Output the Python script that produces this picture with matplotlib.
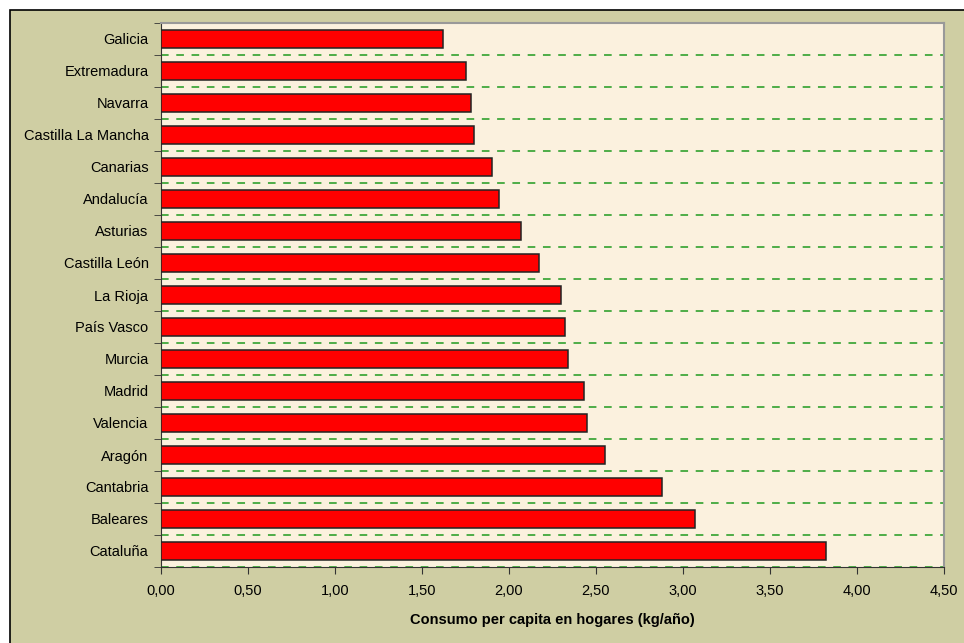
import matplotlib.pyplot as plt
from matplotlib.patches import Rectangle
import numpy as np

regiones = ['Galicia', 'Extremadura', 'Navarra', 'Castilla La Mancha', 'Canarias',
            'Andalucía', 'Asturias', 'Castilla León', 'La Rioja', 'País Vasco',
            'Murcia', 'Madrid', 'Valencia', 'Aragón', 'Cantabria', 'Baleares', 'Cataluña']
consumo = [1.62, 1.75, 1.78, 1.80, 1.90, 1.94, 2.07, 2.17, 2.30, 2.32,
           2.34, 2.43, 2.45, 2.55, 2.88, 3.07, 3.82]
xticks = [0.0, 0.5, 1.0, 1.5, 2.0, 2.5, 3.0, 3.5, 4.0, 4.5]

plt.rcParams['font.family'] = ['Liberation Sans', 'DejaVu Sans']

fig = plt.figure(figsize=(9.64, 6.43), dpi=100, facecolor='white')
# outer panel
fig.add_artist(Rectangle((10 / 964, -0.05), 1.0, 1.05 - 10 / 643,
                         transform=fig.transFigure, facecolor='#cfcea3',
                         edgecolor='black', linewidth=1.2, zorder=-5))

ax = fig.add_axes([161 / 964, 76 / 643, 783 / 964, 544 / 643])
ax.set_zorder(2)
ax.set_facecolor('#fbf1de')

y = np.arange(len(regiones))
ax.barh(y, consumo, height=0.56, color='#ff0000', edgecolor='#222222', linewidth=1.1, zorder=3)

n = len(regiones)
for b in np.arange(-0.5, n, 1.0):
    ax.axhline(b, color='#1f9a1f', linestyle=(0, (5, 5)), linewidth=1.1, zorder=1)

ax.set_ylim(n - 0.5, -0.5)
ax.set_xlim(0, 4.5)
ax.set_xticks(xticks)
ax.set_xticklabels([f'{v:.2f}'.replace('.', ',') for v in xticks], fontsize=10.5)
ax.set_yticks(y)
ax.set_yticklabels(regiones, fontsize=10.5)
ax.set_yticks(np.arange(-0.5, n, 1.0), minor=True)
ax.tick_params(axis='y', which='major', length=0, pad=9)
ax.tick_params(axis='y', which='minor', length=5, direction='out', color='#333333')
ax.tick_params(axis='x', length=5, direction='out', color='#333333', pad=7)

for s in ['left', 'bottom']:
    ax.spines[s].set_color('#333333')
for s in ['top', 'right']:
    ax.spines[s].set_color('#999999')
    ax.spines[s].set_linewidth(1.5)

ax.set_xlabel('Consumo per capita en hogares (kg/año)', fontsize=10.5,
              fontweight='bold', labelpad=11)

fig.savefig('out.png', dpi=100)
